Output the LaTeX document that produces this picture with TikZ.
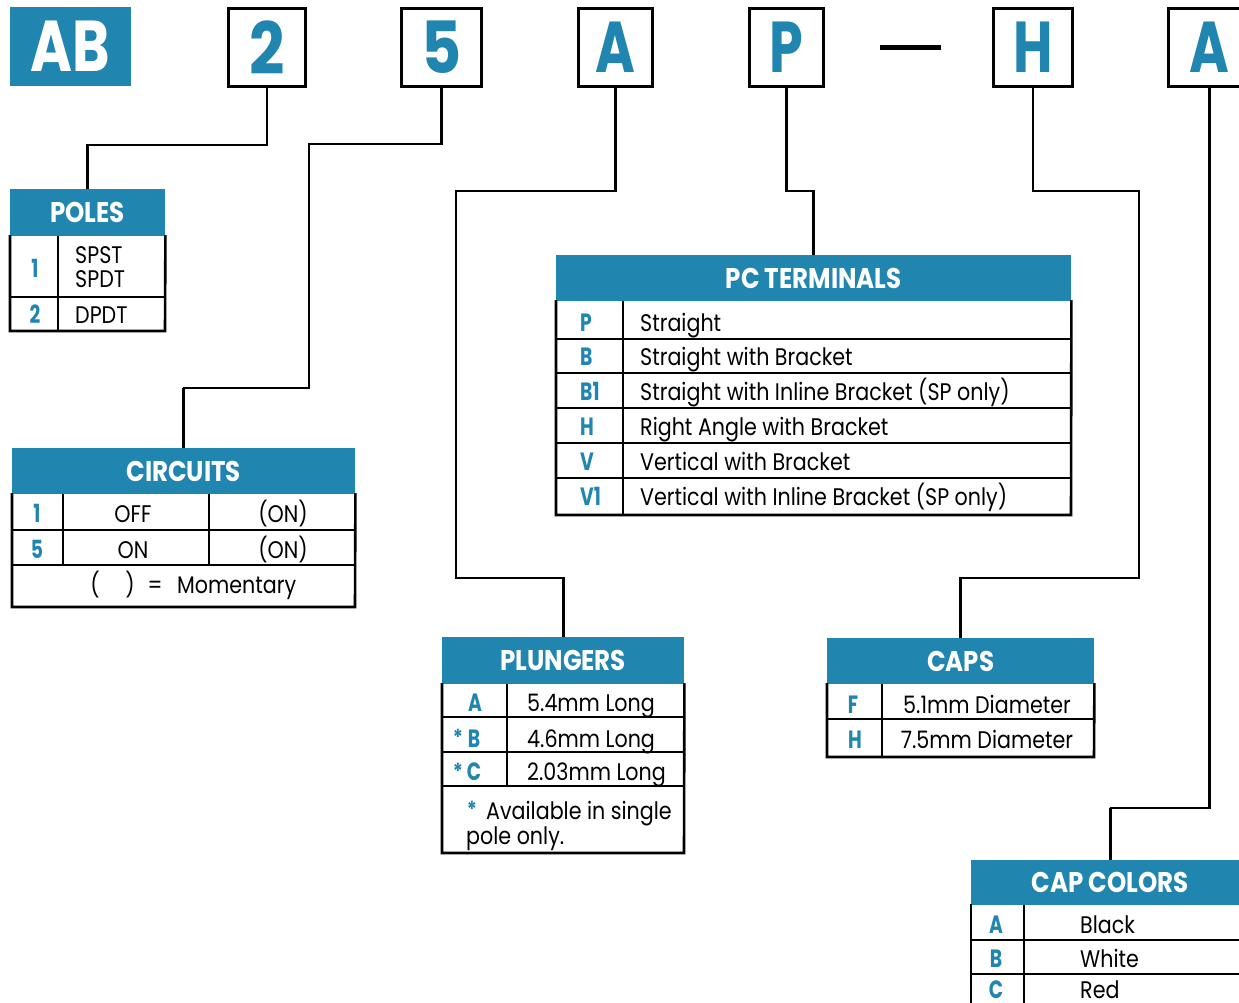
\documentclass[tikz,border=0pt]{standalone}
\usepackage{fontspec}
\setmainfont{Poppins}
\newfontfamily\bodyf{Poppins}[FakeStretch=0.86]
\newfontfamily\hdrf{Poppins}[FakeStretch=0.86]
\newfontfamily\abf{Poppins}[FakeStretch=0.79]
\newfontfamily\condf{Poppins}[FakeStretch=0.75]
\definecolor{brandblue}{RGB}{33,134,175}
\tikzset{
  hdr/.style={rectangle, fill=brandblue, text=white, font=\hdrf\bfseries\fontsize{28.5}{30}\selectfont, inner sep=0pt, anchor=north west},
  lbl/.style={text=brandblue, font=\condf\bfseries\fontsize{25}{28}\selectfont, inner sep=0pt},
  astk/.style={text=brandblue, font=\bodyf\bfseries\fontsize{22}{24}\selectfont, inner sep=0pt, anchor=base},
  txt/.style={text=black, font=\bodyf\fontsize{24}{28}\selectfont, inner sep=0pt},
  frameline/.style={line width=2.6pt, line cap=rect},
  gridline/.style={line width=1.4pt},
  conn/.style={line width=2.6pt},
  topwide/.style={rectangle, draw, line width=3pt, inner sep=0pt, anchor=north west, text=brandblue, font=\hdrf\bfseries\fontsize{72}{72}\selectfont},
  topcond/.style={rectangle, draw, line width=3pt, inner sep=0pt, anchor=north west, text=brandblue, font=\condf\bfseries\fontsize{72}{72}\selectfont},
}
\begin{document}
\begin{tikzpicture}[x=1pt,y=-1pt]
\clip (0,0) rectangle (1239,1003);
\fill[white] (0,0) rectangle (1239,1003);
% ---------- top code boxes ----------
\node[rectangle, fill=brandblue, minimum width=121pt, minimum height=79pt, anchor=north west, inner sep=0pt, text=white, font=\abf\bfseries\fontsize{72}{72}\selectfont] (ab) at (10,7) {AB};
\node[topwide, minimum width=77pt, minimum height=78pt] (b2) at (227,7) {2};
\node[topwide, minimum width=80pt, minimum height=78pt] (b5) at (400,7) {5};
\node[topcond, minimum width=74pt, minimum height=78pt] (bA) at (577,7) {A};
\node[topcond, minimum width=74pt, minimum height=78pt] (bP) at (748,7) {P};
\node[rectangle, fill=black, minimum width=61pt, minimum height=5pt, inner sep=0pt, anchor=west] (sep) at (880,48) {};
\node[topcond, minimum width=79pt, minimum height=78pt] (bH) at (992,7) {H};
\node[topcond, minimum width=82pt, minimum height=78pt] (bA2) at (1167,7) {A};

% ---------- POLES ----------
\node[hdr, minimum width=155pt, minimum height=47pt] (poles) at (10,189) {POLES};
\draw[gridline] (58,236) -- (58,331) (10,297) -- (165,297);
\draw[frameline] (poles.south west) -- (10,331) -- (165,331) -- (poles.south east);
\node[lbl, anchor=base] (p1k) at (35,277) {1};
\node[txt, anchor=base west] (p1a) at (75,263) {SPST};
\node[txt, anchor=base west] (p1b) at (75,287) {SPDT};
\node[lbl, anchor=base] (p2k) at (35,323) {2};
\node[txt, anchor=base west] (p2a) at (75,323) {DPDT};

% ---------- CIRCUITS ----------
\node[hdr, minimum width=343pt, minimum height=46pt] (circuits) at (12,448) {CIRCUITS};
\draw[gridline] (63,494) -- (63,565) (209,494) -- (209,565) (12,530) -- (355,530) (12,565) -- (355,565);
\draw[frameline] (circuits.south west) -- (12,607) -- (355,607) -- (circuits.south east);
\node[lbl, anchor=base] (c1k) at (37,522) {1};
\node[txt, anchor=base] (c1a) at (133,522) {OFF};
\node[txt, anchor=base] (c1b) at (283,522) {(ON)};
\node[lbl, anchor=base] (c5k) at (37,558) {5};
\node[txt, anchor=base] (c5a) at (133,558) {ON};
\node[txt, anchor=base] (c5b) at (283,558) {(ON)};
\node[txt, anchor=base] (cpl) at (95,593) {(};
\node[txt, anchor=base] (cpr) at (130,593) {)};
\node[txt, anchor=base] (ceq) at (155,593) {=};
\node[txt, anchor=base west] (cmom) at (177,593) {Momentary};

% ---------- PLUNGERS ----------
\node[hdr, minimum width=242pt, minimum height=47pt] (plungers) at (442,637) {PLUNGERS};
\draw[gridline] (507,684) -- (507,786) (442,717) -- (684,717) (442,752) -- (684,752) (442,786) -- (684,786);
\draw[frameline] (plungers.south west) -- (442,853) -- (684,853) -- (plungers.south east);
\node[lbl, anchor=base] (plA) at (475,711) {A};
\node[astk] (plsb) at (458,745) {*};
\node[lbl, anchor=base] (plB) at (474,747) {B};
\node[astk] (plsc) at (458,779) {*};
\node[lbl, anchor=base] (plC) at (474,780) {C};
\node[txt, anchor=base west] (plAt) at (527,711) {5.4mm Long};
\node[txt, anchor=base west] (plBt) at (527,747) {4.6mm Long};
\node[txt, anchor=base west] (plCt) at (527,780) {2.03mm Long};
\node[astk] (plsn) at (472,817) {*};
\node[txt, anchor=base west] (pln1) at (486,819) {Available in single};
\node[txt, anchor=base west] (pln2) at (466,844) {pole only.};

% ---------- PC TERMINALS ----------
\node[hdr, minimum width=515pt, minimum height=46pt] (pcterm) at (556,255) {PC TERMINALS};
\draw[gridline] (623,301) -- (623,515)
  (556,339) -- (1071,339) (556,373) -- (1071,373) (556,408) -- (1071,408)
  (556,443) -- (1071,443) (556,478) -- (1071,478);
\draw[frameline] (pcterm.south west) -- (556,515) -- (1071,515) -- (pcterm.south east);
\node[lbl, anchor=base west] (tPk) at (580,331) {P};
\node[lbl, anchor=base west] (tBk) at (580,365) {B};
\node[lbl, anchor=base west] (tB1k) at (580,400) {B1};
\node[lbl, anchor=base west] (tHk) at (580,435) {H};
\node[lbl, anchor=base west] (tVk) at (580,470) {V};
\node[lbl, anchor=base west] (tV1k) at (580,505) {V1};
\node[txt, anchor=base west] (tP) at (640,331) {Straight};
\node[txt, anchor=base west] (tB) at (640,365) {Straight with Bracket};
\node[txt, anchor=base west] (tB1) at (640,400) {Straight with Inline Bracket (SP only)};
\node[txt, anchor=base west] (tH) at (640,435) {Right Angle with Bracket};
\node[txt, anchor=base west] (tV) at (640,470) {Vertical with Bracket};
\node[txt, anchor=base west] (tV1) at (640,505) {Vertical with Inline Bracket (SP only)};

% ---------- CAPS ----------
\node[hdr, minimum width=267pt, minimum height=46pt] (caps) at (827,638) {CAPS};
\draw[gridline] (882,684) -- (882,757) (827,719) -- (1094,719);
\draw[frameline] (caps.south west) -- (827,757) -- (1094,757) -- (caps.south east);
\node[lbl, anchor=base] (kF) at (853,713) {F};
\node[lbl, anchor=base] (kH) at (855,748) {H};
\node[txt, anchor=base] (kFt) at (987,713) {5.1mm Diameter};
\node[txt, anchor=base] (kHt) at (987,748) {7.5mm Diameter};

% ---------- CAP COLORS ----------
\node[hdr, minimum width=278pt, minimum height=45pt] (capcol) at (971,860) {CAP COLORS};
\draw[gridline] (1024,905) -- (1024,1010) (971,940) -- (1249,940) (971,974) -- (1249,974);
\draw[frameline] (capcol.south west) -- (971,1010);
\node[lbl, anchor=base] (ccA) at (996,933) {A};
\node[lbl, anchor=base] (ccB) at (996,967) {B};
\node[lbl, anchor=base] (ccC) at (996,998) {C};
\node[txt, anchor=base west] (ccAt) at (1080,933) {Black};
\node[txt, anchor=base west] (ccBt) at (1080,967) {White};
\node[txt, anchor=base west] (ccCt) at (1080,998) {Red};

% ---------- connectors ----------
\coordinate (k2a) at (88,145);
\draw[conn] (b2.south) |- (k2a) -| (poles.north);
\coordinate (k5a) at (309,144);
\coordinate (k5b) at (183,388);
\draw[conn] (b5.south) |- (k5a) |- (k5b) -| (circuits.north);
\coordinate (kAa) at (456,191);
\coordinate (kAb) at (563,578);
\draw[conn] (bA.south) |- (kAa) |- (kAb) -| (plungers.north);
\coordinate (kPa) at (813,191);
\draw[conn] (bP.south) |- (kPa) -| (pcterm.north);
\coordinate (kHa) at (1139,191);
\coordinate (kHb) at (959,578);
\draw[conn] (bH.south) |- (kHa) |- (kHb) -| (caps.north);
\coordinate (kCa) at (1110,808);
\draw[conn] (bA2.south) |- (kCa) -| (capcol.north);
\end{tikzpicture}
\end{document}
